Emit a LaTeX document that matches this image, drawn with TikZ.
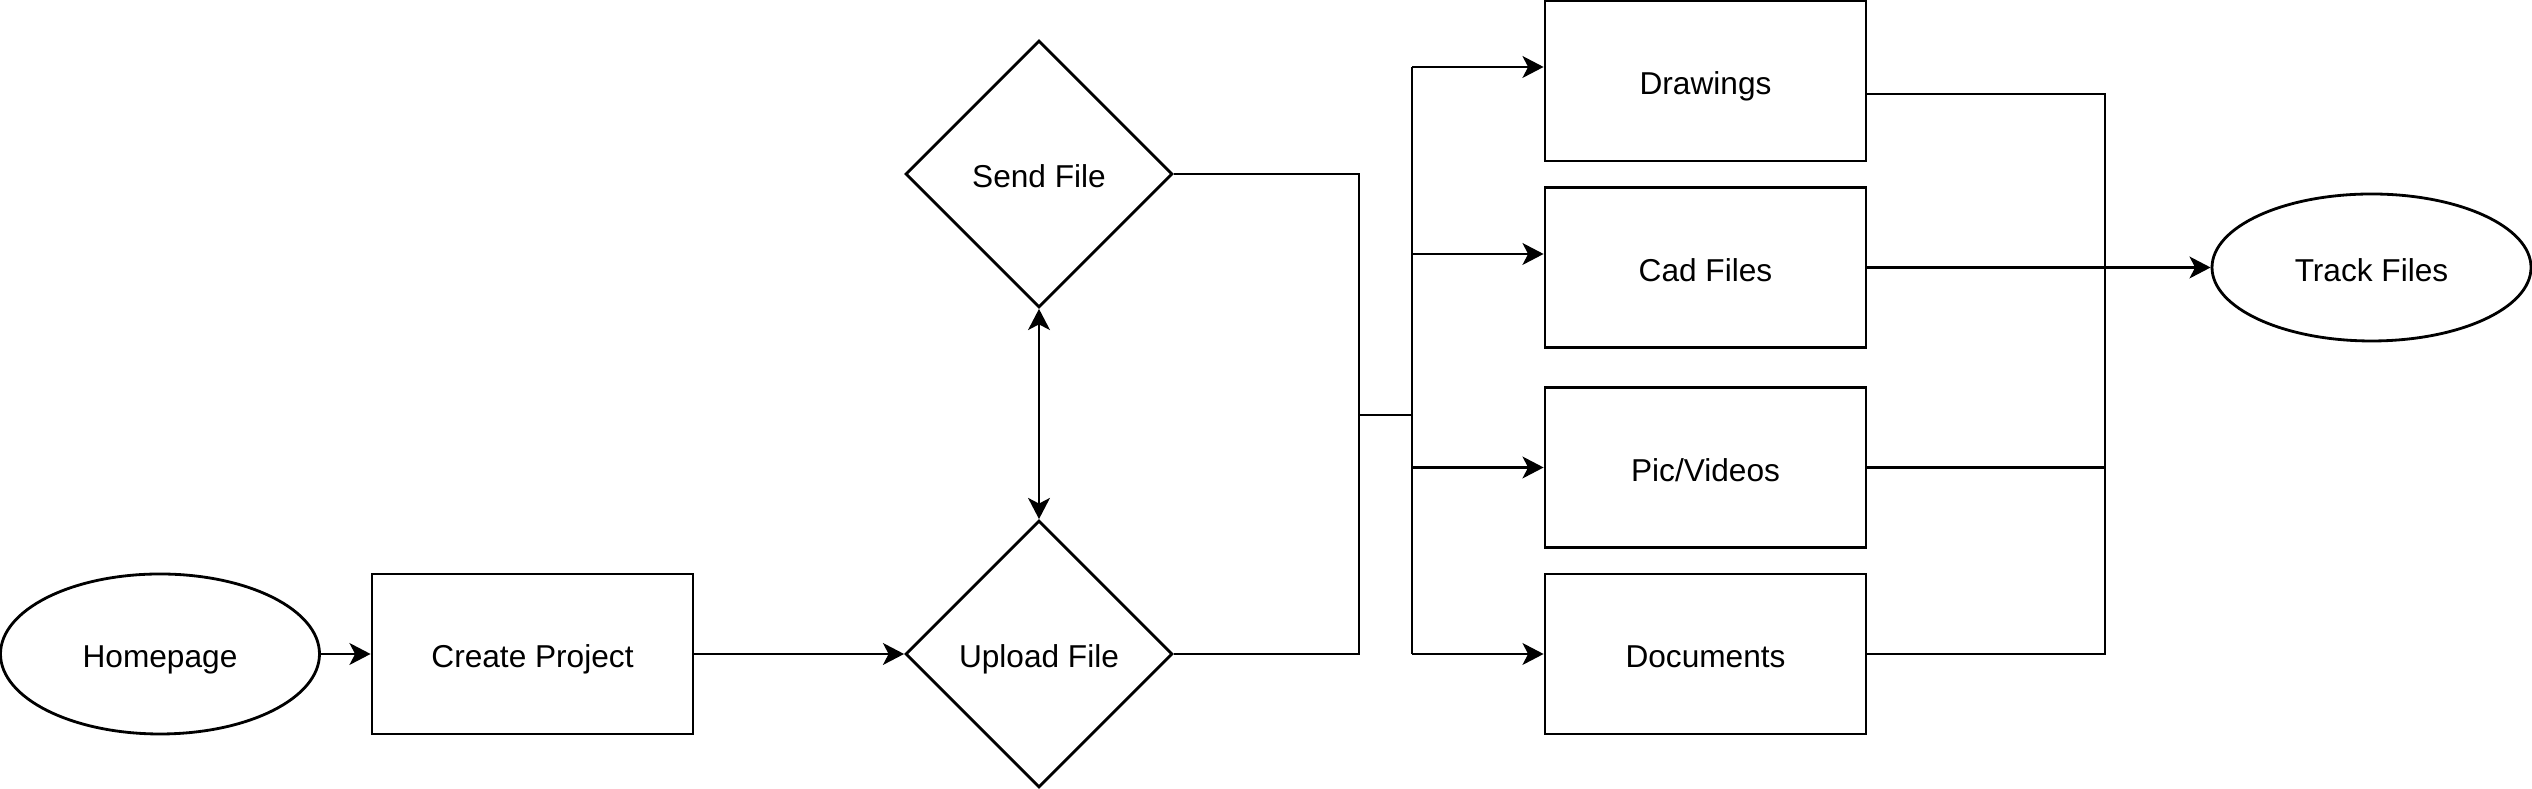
\documentclass[tikz,border=0pt]{standalone}
\usepackage{fontspec}
\setmainfont{Liberation Sans}
\usetikzlibrary{shapes.geometric,arrows.meta}

\begin{document}
\begin{tikzpicture}[line width=0.8pt,
  every node/.style={inner sep=0pt, text height=0.95em, text depth=0.17em, font=\fontsize{9}{11}\selectfont},
  box/.style={draw, rectangle, minimum width=3.21cm, minimum height=1.60cm},
  oval/.style={draw, ellipse, minimum width=3.19cm, minimum height=1.60cm},
  choice/.style={draw, diamond, aspect=1, minimum width=2.67cm, minimum height=2.67cm},
  arr/.style={-{Stealth[length=6pt,width=6.2pt,inset=1.6pt]}},
  dbl/.style={{Stealth[length=6pt,width=6.2pt,inset=1.6pt]}-{Stealth[length=6pt,width=6.2pt,inset=1.6pt]}}]
  \useasboundingbox (0,0) rectangle (25.32,7.89);
  \node[oval] (home) at (1.60,1.35) {Homepage};
  \node[box] (create) at (5.325,1.35) {Create Project};
  \node[choice] (upload) at (10.39,1.35) {Upload File};
  \node[choice] (send) at (10.39,6.15) {Send File};
  \node[box] (drw) at (17.055,7.08) {Drawings};
  \node[box] (cad) at (17.055,5.215) {Cad Files};
  \node[box] (pic) at (17.055,3.215) {Pic/Videos};
  \node[box] (docs) at (17.055,1.35) {Documents};
  \node[oval, minimum height=1.47cm] (track) at (23.715,5.215) {Track Files};
  \coordinate (jL) at (13.59,3.74);
  \coordinate (jR) at (14.12,3.74);
  \coordinate (b1) at (14.12,7.22);
  \coordinate (b2) at (14.12,5.35);
  \coordinate (b3) at (14.12,3.215);
  \coordinate (b4) at (14.12,1.35);
  \coordinate (t1) at (21.05,6.95);
  \coordinate (t4) at (21.05,1.35);
  \draw[arr] (home) -- (create);
  \draw[arr] (create) -- (upload);
  \draw[dbl] (send) -- (upload);
  \draw (send.east) -| (jL) |- (upload.east);
  \draw (jL) -- (jR);
  \draw (b1) -- (b4);
  \draw[arr] (b1) -- (b1 -| drw.west);
  \draw[arr] (b2) -- (b2 -| cad.west);
  \draw[arr] (b3) -- (b3 -| pic.west);
  \draw[arr] (b4) -- (b4 -| docs.west);
  \draw (drw.east |- t1) -- (t1) -- (t4) -- (docs.east);
  \draw (pic.east) -- (pic.east -| t1);
  \draw[arr] (cad.east) -- (track.west);
\end{tikzpicture}
\end{document}
